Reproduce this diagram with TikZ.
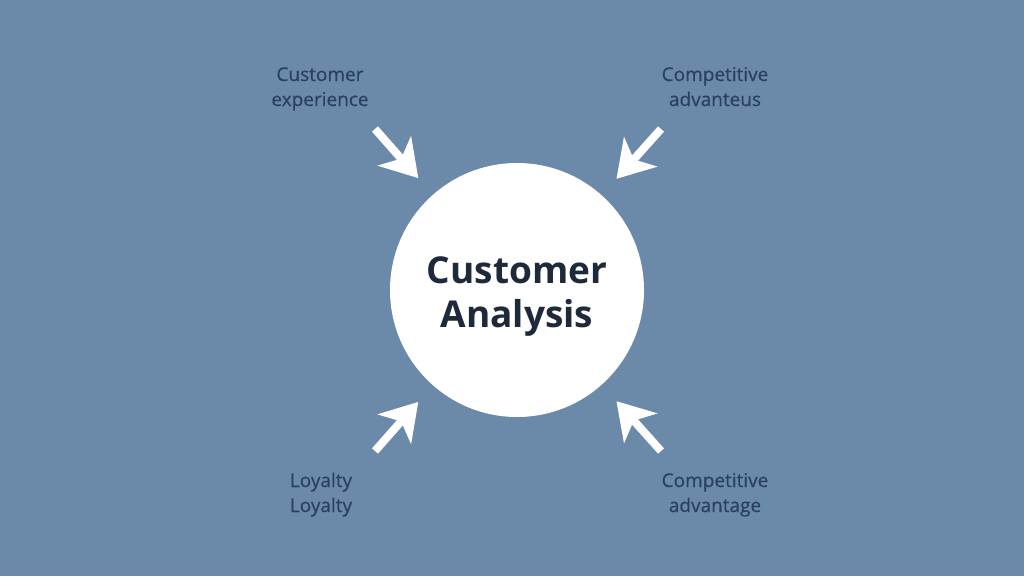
\documentclass[tikz,border=0pt]{standalone}
\usepackage{fontspec}
\setmainfont{Open Sans}
\usetikzlibrary{arrows.meta}
\definecolor{bgblue}{RGB}{107,137,169}
\definecolor{inkdark}{RGB}{30,42,58}
\definecolor{inklabel}{RGB}{42,65,94}

\tikzset{
  core/.style={circle, fill=white, minimum size=254pt, inner sep=0pt},
  coretext/.style={align=center, text=inkdark, inner sep=0pt, anchor=base,
    font=\fontsize{37}{44}\selectfont\bfseries},
  lbl/.style={align=center, text=inklabel, inner sep=0pt, anchor=base,
    font=\fontsize{19}{25}\selectfont\addfontfeature{FakeBold=0.4}},
  bigarrow/.style={white, line width=8pt, shorten >=22pt,
    -{Stealth[length=36pt, width=44pt, inset=10pt]}}
}

\begin{document}
\begin{tikzpicture}[x=1pt,y=-1pt]
  \fill[bgblue] (0,0) rectangle (1024,576);

  % centre
  \node[core] (core) at (517,290) {};
  \node[coretext] (coretitle) at (517,327) {Customer\\Analysis};

  % labels (base = last line)
  \node[lbl] (custexp) at (320,106) {Customer\\experience};
  \node[lbl] (compadvtop) at (715,106) {Competitive\\advanteus};
  \node[lbl] (loyalty) at (321,512) {Loyalty\\Loyalty};
  \node[lbl] (compadv) at (715,512) {Competitive\\advantage};

  % arrow tails
  \coordinate (tltail) at (375,129);
  \coordinate (trtail) at (661,129);
  \coordinate (bltail) at (375,451);
  \coordinate (brtail) at (661,451);

  \draw[bigarrow] (tltail) -- (core);
  \draw[bigarrow] (trtail) -- (core);
  \draw[bigarrow] (bltail) -- (core);
  \draw[bigarrow] (brtail) -- (core);
\end{tikzpicture}
\end{document}
